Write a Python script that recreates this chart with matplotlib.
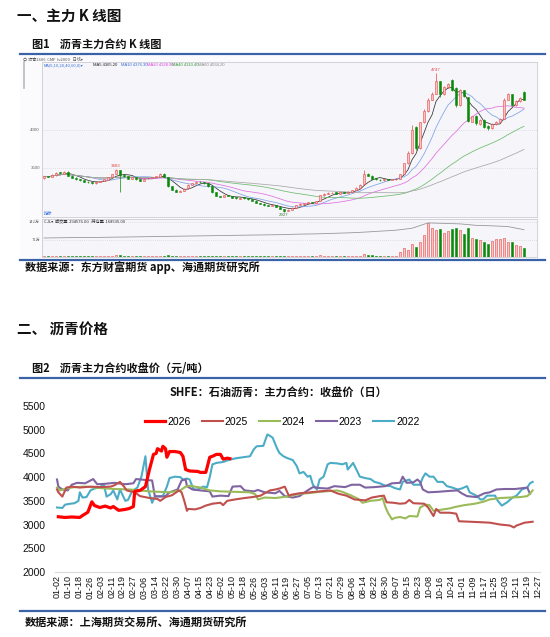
import matplotlib
matplotlib.use('Agg')
import matplotlib.pyplot as plt
import numpy as np
import pandas as pd
from matplotlib.patches import Rectangle
from matplotlib.lines import Line2D

# ---------------- data: K-line chart (main contract, daily) ----------------
k_open = [3370,3395,3380,3405,3445,3425,3450,3400,3372,3352,
          3342,3322,3312,3298,3318,3332,3348,3382,3418,3470,
          3410,3392,3358,3382,3352,3328,3362,3368,3382,3388,
          3425,3380,3262,3212,3188,3198,3232,3278,3302,3322,
          3312,3302,3262,3182,3132,3118,3142,3128,3112,3098,
          3112,3102,3088,3072,3042,3032,3012,2998,3012,2992,
          2962,2938,2952,2978,3012,3028,3042,3052,3042,3062,
          3138,3162,3168,3178,3158,3182,3168,3188,3212,3238,
          3285,3425,3398,3362,3348,3338,3358,3342,3352,3358,
          3425,3560,3700,4040,3760,4100,4250,4400,4480,4640,
          4470,4560,4660,4550,4330,4520,4430,4110,4190,4080,
          4130,4050,4020,4080,4110,4150,4400,4470,4330,4380,
          4500]
k_close = [3390,3380,3410,3440,3430,3450,3400,3370,3350,3340,
           3320,3310,3300,3320,3330,3350,3380,3420,3470,3410,
           3390,3360,3380,3350,3330,3360,3370,3380,3390,3420,
           3380,3260,3210,3190,3200,3230,3280,3300,3320,3310,
           3300,3260,3180,3130,3120,3140,3130,3110,3100,3110,
           3100,3090,3070,3040,3030,3010,3000,3010,2990,2960,
           2940,2950,2980,3010,3030,3040,3050,3045,3060,3140,
           3160,3170,3175,3160,3180,3170,3190,3210,3240,3280,
           3420,3400,3360,3350,3340,3355,3345,3350,3360,3420,
           3560,3700,4000,3760,4100,4250,4400,4480,4650,4470,
           4560,4600,4520,4330,4520,4450,4120,4180,4090,4130,
           4040,4020,4080,4110,4150,4400,4470,4330,4380,4420,
           4400]
k_high = [3400,3400,3415,3445,3450,3460,3455,3405,3378,3358,
          3348,3328,3318,3325,3335,3352,3385,3425,3483,3472,
          3415,3395,3385,3385,3355,3365,3372,3385,3392,3436,
          3428,3385,3268,3220,3205,3235,3285,3305,3325,3326,
          3315,3305,3265,3185,3135,3145,3145,3132,3115,3115,
          3115,3105,3092,3075,3045,3035,3015,3015,3015,2995,
          2965,2955,2985,3015,3035,3045,3055,3055,3065,3150,
          3170,3178,3182,3180,3185,3185,3195,3215,3245,3290,
          3474,3430,3405,3365,3352,3360,3360,3355,3365,3425,
          3570,3720,4066,4050,4110,4270,4420,4500,4747,4650,
          4580,4620,4670,4560,4540,4530,4440,4190,4200,4140,
          4140,4060,4090,4120,4160,4420,4490,4480,4395,4430,
          4510]
k_low = [3360,3375,3375,3400,3425,3420,3395,3365,3345,3335,
         3315,3305,3290,3295,3315,3328,3345,3378,3415,3184,
         3385,3355,3355,3345,3325,3325,3358,3365,3378,3385,
         3375,3255,3205,3185,3185,3195,3228,3275,3298,3305,
         3295,3255,3175,3125,3115,3115,3125,3105,3095,3095,
         3095,3085,3065,3035,3025,3005,2995,2995,2985,2955,
         2927,2935,2948,2975,3008,3025,3038,3040,3040,3060,
         3135,3158,3165,3155,3155,3165,3165,3185,3208,3235,
         3280,3395,3355,3345,3335,3335,3340,3338,3348,3355,
         3420,3550,3690,3740,3750,4090,4240,4390,4470,4440,
         4460,4550,4510,4300,4320,4430,4100,4100,4070,4070,
         4030,4000,4010,4070,4100,4140,4390,4310,4320,4370,
         4390]
k_vol = [4,3,4,5,4,6,5,4,3,3,
         3,3,4,3,3,4,5,6,9,10,
         5,4,4,3,4,3,3,4,4,6,
         5,8,6,5,4,4,4,5,4,3,
         3,4,6,5,4,3,3,3,3,3,
         3,3,4,4,3,3,3,3,4,4,
         5,4,4,4,3,3,3,3,4,8,
         6,5,4,4,4,3,4,4,5,6,
         12,10,7,5,4,4,4,3,4,20,
         35,28,55,40,60,90,140,120,110,115,
         100,108,115,120,112,95,120,80,75,70,
         60,55,65,75,72,80,60,62,50,45,
         35]
k_oi = [78,79,80,80,81,82,83,84,85,86,87,88,89,90,91,92,94,95,97,99,
        102,106,110,118,140,138,136,130,128,125,112]
ma_periods = [5, 10, 20, 40, 60]
ma_labels = ['MA5 4365.20', 'MA10 4376.30', 'MA20 4328.90', 'MA40 4310.40', 'MA60 4034.20']

# ---------------- data: closing price by year (position on the Jan→Dec axis, value) ----------------
d2026 = [3,8,13,19,21,25,28,30,34,38,42,44,48,53,56,59,60,64,68,71,74,76,77,80,81,83,84,86,90,94,
         96,98,101,107,109,113,114,116,118,121,124,126,129,131]
v2026 = [3165,3150,3160,3150,3190,3260,3480,3400,3360,3390,3350,3380,3300,3320,3340,3380,3700,3720,3800,4160,
         4480,4500,4600,4550,4650,4600,4420,4540,4540,4520,4440,4160,4130,4120,4100,4100,4200,4420,4440,4480,
         4480,4380,4400,4390]

d2025 = [2,3,6,9,13,19,27,34,42,45,49,52,54,60,64,71,77,79,83,88,93,95,97,99,100,105,109,113,118,124,
         126,129,135,142,148,154,157,161,165,168,172,175,177,183,191,198,206,212,218,224,232,237,243,246,248,
         253,258,262,265,268,276,279,283,285,288,295,300,302,310,318,325,333,340,343,345,351,357]
v2025 = [3740,3680,3590,3780,3800,3780,3800,3790,3800,3830,3900,3800,3720,3680,3600,3560,3540,3500,3580,3620,
         3720,3680,3500,3290,3330,3320,3350,3400,3440,3460,3410,3500,3530,3560,3580,3610,3660,3720,3740,3760,
         3800,3610,3630,3660,3680,3700,3720,3650,3610,3530,3510,3570,3600,3610,3470,3460,3440,3450,3520,3450,
         3440,3360,3180,3330,3250,3250,3230,3070,3060,3050,3040,3000,2980,2940,2980,3040,3060]

d2024 = [2,4,9,15,23,34,45,56,64,71,79,86,94,98,101,109,116,124,135,146,150,152,157,165,176,183,189,198,
         211,215,221,227,230,236,243,245,247,249,252,254,258,262,265,271,273,277,280,283,288,295,299,306,
         314,320,325,333,340,348,353,355,357]
v2024 = [3780,3720,3760,3790,3800,3770,3750,3740,3720,3700,3690,3680,3720,3800,3820,3780,3720,3700,3690,3680,
         3640,3530,3570,3560,3600,3650,3660,3690,3720,3690,3620,3540,3460,3500,3520,3560,3380,3250,3110,3140,
         3160,3130,3180,3170,3360,3420,3410,3290,3310,3340,3370,3410,3440,3480,3530,3560,3570,3580,3600,3650,
         3720]

d2023 = [2,3,6,10,13,17,23,29,32,38,45,53,59,61,68,73,75,79,83,86,92,95,98,99,103,109,116,118,124,130,
         133,139,142,149,152,157,165,168,172,178,183,189,193,198,204,209,217,222,228,232,239,247,252,258,
         260,263,268,271,273,275,279,286,295,301,304,308,315,321,325,330,336,344,350,353,355]
v2023 = [3950,3800,3740,3720,3840,3880,3870,3960,3850,3860,3880,3850,3870,3960,3940,3930,3600,3590,3600,3680,
         3740,3930,3950,3810,3740,3720,3700,3590,3610,3600,3800,3810,3720,3700,3730,3680,3660,3710,3600,3570,
         3600,3720,3790,3770,3760,3810,3790,3840,3840,3780,3790,3810,3870,3880,4010,3880,3890,3950,3900,3740,
         3680,3690,3710,3720,3660,3600,3580,3660,3680,3740,3750,3750,3770,3780,3650]

d2022 = [2,6,8,12,15,18,19,21,24,27,30,34,37,39,42,44,47,49,53,55,58,62,65,68,69,70,73,75,79,81,
         84,86,90,94,96,99,101,104,107,111,114,116,118,121,126,131,136,141,146,149,151,156,159,161,163,166,
         168,171,174,178,181,183,186,189,191,193,196,198,201,204,206,211,215,218,219,223,226,228,232,236,
         239,243,247,251,254,258,260,265,268,273,275,277,280,283,286,290,293,297,301,304,308,310,315,318,
         320,323,329,331,334,338,342,345,349,353,355,357]
v2022 = [3360,3350,3420,3440,3450,3500,3680,3570,3580,3720,3760,3790,3840,3590,3640,3720,3530,3740,3500,3520,
         3700,3780,4010,4440,4080,3740,3460,3590,3600,3600,3800,3980,4010,4000,3950,3970,3950,3740,3740,3800,
         3790,4000,4270,4300,4320,4370,4400,4420,4440,4590,4650,4660,4900,4870,4830,4620,4510,4440,4400,4360,
         4230,4080,4110,4010,4030,3840,3740,3950,4010,4270,4300,4290,4270,4300,4160,4300,4130,4010,3980,3960,
         3900,3870,3820,3810,3770,3740,3900,3950,3840,3840,3990,4080,4010,4010,3900,3900,3810,3780,3740,3760,
         3810,3680,3610,3530,3530,3610,3610,3500,3400,3470,3570,3610,3740,3780,3870,3900]

series_names = ['2026', '2025', '2024', '2023', '2022']
series_days = [d2026, d2025, d2024, d2023, d2022]
series_vals = [v2026, v2025, v2024, v2023, v2022]
series_colors = ['#FF0000', '#C0504D', '#9BBB59', '#8064A2', '#4BACC6']
series_lw = [2.3, 1.5, 1.5, 1.5, 1.5]

xtick_labels = ['01-02','01-10','01-18','01-26','02-03','02-11','02-19','02-27','03-06','03-14','03-22',
                '03-30','04-07','04-15','04-23','05-02','05-10','05-18','05-26','06-03','06-11','06-19',
                '06-27','07-05','07-13','07-21','07-29','08-06','08-14','08-22','08-30','09-07','09-15',
                '09-23','10-08','10-16','10-24','11-01','11-09','11-17','11-25','12-03','12-11','12-19','12-27']
yticks = [2000, 2500, 3000, 3500, 4000, 4500, 5000, 5500]

# ---------------- figure helpers ----------------
W, H = 550, 637
CJK = ['Noto Sans CJK SC', 'DejaVu Sans']
NUM = ['Liberation Sans', 'DejaVu Sans']
plt.rcParams['font.family'] = CJK

fig = plt.figure(figsize=(W / 100, H / 100), dpi=100)
fig.patch.set_facecolor('white')


def rect(x0, y0, x1, y1):
    return [x0 / W, 1 - y1 / H, (x1 - x0) / W, (y1 - y0) / H]


def ftext(x, y, s, **kw):
    fig.text(x / W, 1 - y / H, s, **kw)


def hline(x0, x1, y, **kw):
    fig.add_artist(Line2D([x0 / W, x1 / W], [1 - y / H, 1 - y / H], transform=fig.transFigure, **kw))


BLUE = '#3A62A7'

# ---------------- headings ----------------
ftext(17, 16, '一、主力 K 线图', fontsize=10.5, fontweight='bold', va='center', color='#111')
ftext(32, 45, '图1    沥青主力合约 K 线图', fontsize=8, fontweight='bold', va='center', color='#111')
hline(20, 545, 54, color=BLUE, lw=1.6)

# screenshot background
fig.add_artist(Rectangle((20 / W, 1 - 258 / H), 520 / W, 202 / H, transform=fig.transFigure,
                         facecolor='#fbfbfd', edgecolor='none', zorder=0))
ftext(23, 59, '⇔ 沥青2606  CMF  lv2000   日线▾', fontsize=3, va='center', color='#555')
fig.add_artist(Line2D([24 / W, 24 / W], [1 - 62 / H, 1 - 88 / H], transform=fig.transFigure,
                      color='#bbbbbb', lw=1.2))

# ---------------- K-line main panel ----------------
kx = np.arange(len(k_close))
ko = np.array(k_open, float)
kc = np.array(k_close, float)
kh = np.array(k_high, float)
kl = np.array(k_low, float)
up = kc >= ko

axk = fig.add_axes(rect(42, 62, 537, 217))
axk.set_facecolor('#f5f5fa')
axk.set_xlim(-0.5, -0.5 + 495 / 4)
axk.set_ylim(2855, 4895)
axk.set_xticks([])
axk.set_yticks([])
for sp in axk.spines.values():
    sp.set_color('#c4c4cc')
    sp.set_linewidth(0.5)
for lvl in (3500, 4000):
    axk.axhline(lvl, color='#c8c8d2', lw=0.5, ls=(0, (1, 2)), zorder=1)
    axk.text(-0.004, lvl, str(lvl), transform=axk.get_yaxis_transform(), ha='right', va='center',
             fontsize=3.2, color='#666', family=NUM)

ma_colors = ['#333333', '#7FA2E8', '#E070E0', '#6DBB6D', '#A8A8A8']
closes = pd.Series(kc)
for n, col in zip(ma_periods, ma_colors):
    axk.plot(kx, closes.rolling(n, min_periods=1).mean(), color=col, lw=0.55, zorder=2)

RED = '#E84848'
GRN = '#0A8A0A'
axk.vlines(kx[up], kl[up], kh[up], color=RED, lw=0.5, zorder=3)
axk.vlines(kx[~up], kl[~up], kh[~up], color=GRN, lw=0.5, zorder=3)
axk.bar(kx[up], (kc - ko)[up], bottom=ko[up], width=0.65, color='#F8C4C4', edgecolor=RED, lw=0.4, zorder=4)
axk.bar(kx[~up], (kc - ko)[~up], bottom=ko[~up], width=0.65, color=GRN, edgecolor=GRN, lw=0.4, zorder=4)

imax = int(np.argmax(kh))
imin = int(np.argmin(kl))
axk.text(kx[imax], kh[imax] + 20, f'{int(kh[imax])}', fontsize=3.2, color=RED, ha='center', va='bottom', family=NUM)
axk.text(kx[imin], kl[imin] - 20, f'{int(kl[imin])}', fontsize=3.2, color='#3a7a3a', ha='center', va='top', family=NUM)
axk.text(kx[18], kh[18] + 15, f'{int(kh[18])}', fontsize=3.2, color=RED, ha='center', va='bottom', family=NUM)

# MA header
ftext(44, 65, 'MA(5,10,20,40,60,0)▾', fontsize=3, color='#3a6fd8', va='center')
hdr_x = [93, 121, 147, 172, 198]
hdr_c = ['#222222', '#3a6fd8', '#E040E0', '#3a9a3a', '#888888']
for xx, s, cc in zip(hdr_x, ma_labels, hdr_c):
    ftext(xx, 65, s, fontsize=3, color=cc, va='center', family=NUM)

# ---------------- volume panel ----------------
axv = fig.add_axes(rect(42, 219, 537, 257))
axv.set_facecolor('#f5f5fa')
axv.set_xlim(-0.5, -0.5 + 495 / 4)
axv.set_ylim(0, 156)
axv.set_xticks([])
axv.set_yticks([])
for sp in axv.spines.values():
    sp.set_color('#c4c4cc')
    sp.set_linewidth(0.5)
kv = np.array(k_vol, float)
axv.axhline(71, color='#c8c8d2', lw=0.5, ls=(0, (1, 2)))
axv.axhline(142, color='#c8c8d2', lw=0.5, ls=(0, (1, 2)))
axv.bar(kx[up], kv[up], width=0.65, color='#F8C4C4', edgecolor=RED, lw=0.4, zorder=3)
axv.bar(kx[~up], kv[~up], width=0.65, color=GRN, edgecolor=GRN, lw=0.4, zorder=3)
axv.plot(kx[::4], k_oi, color='#999999', lw=0.6, zorder=4)
for lvl, lab in ((142, '142万'), (71, '71万')):
    axv.text(-0.004, lvl, lab, transform=axv.get_yaxis_transform(), ha='right', va='center',
             fontsize=3, color='#666')
ftext(44, 214, '指标', fontsize=3, color='#3a6fd8', va='center')
ftext(44, 221, 'CJL▾  成交量  294576.00   持仓量  168535.00', fontsize=3, color='#333', va='center')

hline(20, 545, 260, color=BLUE, lw=1.6)
ftext(25, 268, '数据来源：东方财富期货 app、海通期货研究所', fontsize=8, fontweight='bold', va='center', color='#111')

# ---------------- section 2 ----------------
ftext(17, 330, '二、 沥青价格', fontsize=10.5, fontweight='bold', va='center', color='#111')
ftext(32, 368, '图2    沥青主力合约收盘价（元/吨）', fontsize=8, fontweight='bold', va='center', color='#111')
hline(20, 545, 378, color=BLUE, lw=1.6)
ftext(278, 393, 'SHFE：石油沥青：主力合约：收盘价（日）', fontsize=8, fontweight='bold',
      ha='center', va='center', color='#111')

axl = fig.add_axes(rect(55, 406, 540, 572))
axl.set_xlim(0.5, 362.5)
axl.set_ylim(2000, 5500)
handles = []
for i in reversed(range(len(series_names))):
    ln, = axl.plot(series_days[i], series_vals[i], color=series_colors[i], lw=series_lw[i],
                   solid_joinstyle='round', zorder=10 - i, label=series_names[i])
    handles.append(ln)
handles = handles[::-1]

axl.set_yticks(yticks)
axl.set_yticklabels([str(v) for v in yticks], fontsize=7.5, family=NUM, color='#111')
# category-style axis: date labels evenly spaced across the year span
tick_pos = np.linspace(2, 361, len(xtick_labels))
axl.set_xticks(tick_pos)
axl.set_xticklabels(xtick_labels, rotation=90, fontsize=6.5, family=NUM, color='#111')
axl.tick_params(axis='y', length=0, pad=7)
axl.tick_params(axis='x', length=0, pad=2.5)
for side in ('left', 'right', 'top'):
    axl.spines[side].set_visible(False)
axl.spines['bottom'].set_color('#d9d9d9')
axl.spines['bottom'].set_linewidth(0.8)
axl.set_facecolor('white')

fig.legend(handles, series_names, loc='center', bbox_to_anchor=(282 / W, 1 - 422 / H), ncol=5,
           frameon=False, prop={'family': NUM, 'size': 7.5}, handlelength=2.0, handletextpad=0.2,
           columnspacing=1.05)

hline(20, 545, 611, color=BLUE, lw=1.6)
ftext(25, 622, '数据来源：上海期货交易所、海通期货研究所', fontsize=8, fontweight='bold', va='center', color='#111')

fig.savefig('out.png', dpi=100, facecolor='white')
